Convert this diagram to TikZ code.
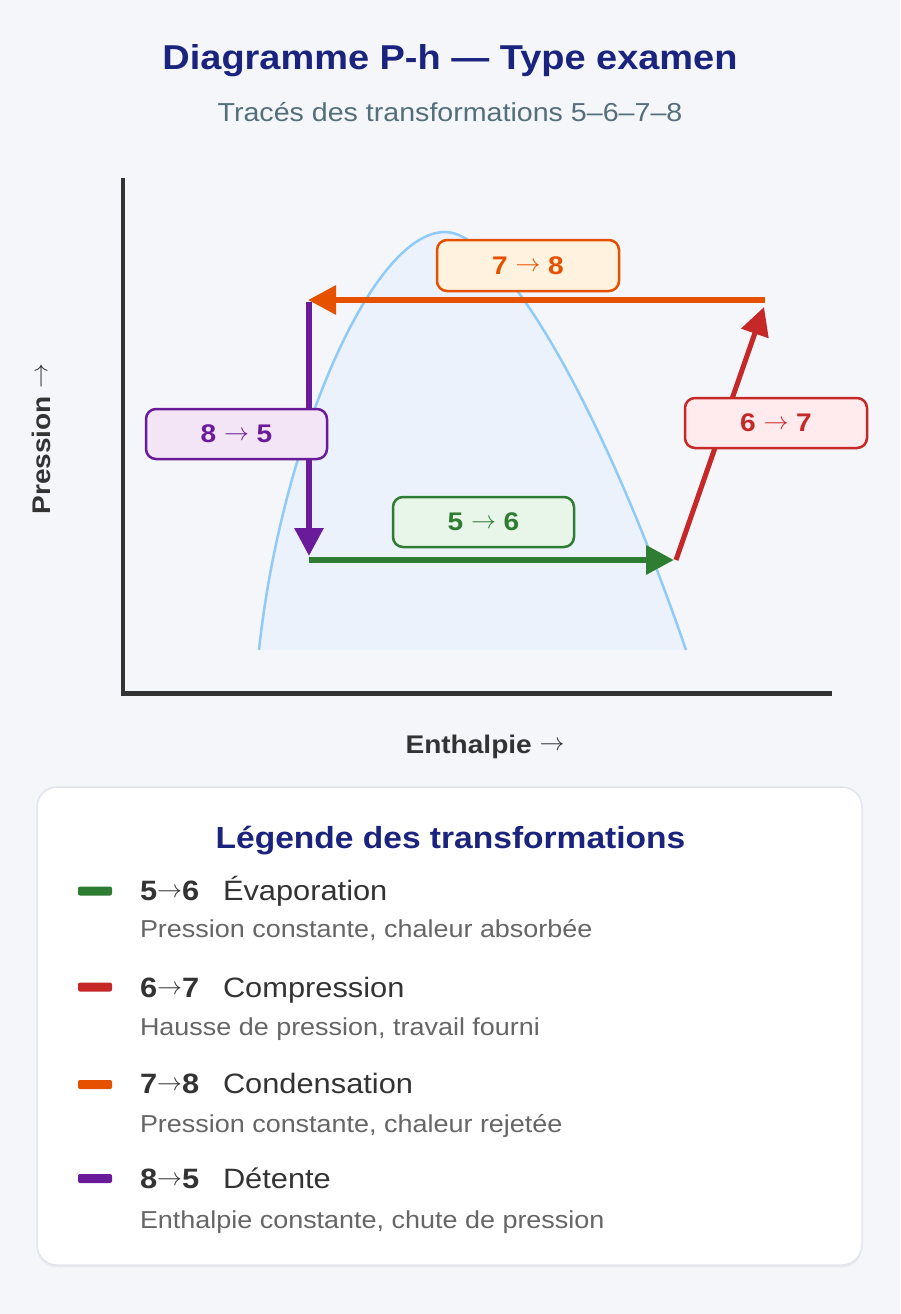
\documentclass[tikz,border=0pt]{standalone}
\usepackage{fontspec}
\setmainfont{Liberation Sans}[FakeStretch=1.1]
\usetikzlibrary{arrows.meta}
\definecolor{bg}{HTML}{F4F6FA}
\definecolor{navy}{HTML}{1A237E}
\definecolor{subgray}{HTML}{546E7A}
\definecolor{axisc}{HTML}{333333}
\definecolor{domeline}{HTML}{90CAF9}
\definecolor{domefill}{HTML}{EBF2FC}
\definecolor{cgreen}{HTML}{2E7D32}
\definecolor{cred}{HTML}{C62828}
\definecolor{corange}{HTML}{E65100}
\definecolor{cpurple}{HTML}{6A1B9A}
\definecolor{fgreen}{HTML}{E8F5E9}
\definecolor{fred}{HTML}{FFEBEE}
\definecolor{forange}{HTML}{FFF3E0}
\definecolor{fpurple}{HTML}{F3E5F5}
\definecolor{darktext}{HTML}{333333}
\definecolor{desctext}{HTML}{666666}
\definecolor{legborder}{HTML}{E2E5EC}
\definecolor{legshadow}{HTML}{E9EBF0}
\newcommand{\myfs}[1]{\fontsize{#1}{#1}\selectfont}
\newcommand{\myarr}{\raisebox{0.1em}{$\rightarrow$}}
\begin{document}
\begin{tikzpicture}[x=1pt,y=-1pt,
  txt/.style={inner sep=0pt, outer sep=0pt},
  lbl/.style={draw, line width=2.5pt, rounded corners=10pt, minimum width=181pt, minimum height=50pt, inner sep=0pt, font=\myfs{25.5}\bfseries},
  flow/.style={line width=6pt},
  flowtip/.style={-{Triangle[length=28pt,width=28pt]}},
  swatch/.style={rounded corners=2pt},
  head/.style={txt, anchor=base west, text=darktext, font=\myfs{28}},
  desc/.style={txt, anchor=base west, text=desctext, font=\myfs{24.5}},
]
\useasboundingbox (0,0) rectangle (900,1314);
\fill[bg] (0,0) rectangle (900,1314);

% titles
\node[txt, anchor=base, text=navy, font=\myfs{34.5}\bfseries] (title) at (450,70) {Diagramme P-h — Type examen};
\node[txt, anchor=base, text=subgray, font=\myfs{26}] (subtitle) at (450,121) {Tracés des transformations 5–6–7–8};

% dome
\fill[domefill] (259,650) .. controls (280,450) and (370,232) .. (445,232) .. controls (500,232) and (600,400) .. (686,650) -- cycle;
\draw[domeline, line width=2.5pt] (259,650) .. controls (280,450) and (370,232) .. (445,232) .. controls (500,232) and (600,400) .. (686,650);

% axes
\coordinate (ytop) at (123,178);
\coordinate (origin) at (123,693.5);
\coordinate (xend) at (832,693.5);
\draw[axisc, line width=4.5pt, line join=miter] (ytop) -- (origin) -- (xend);
\node[txt, anchor=base, text=darktext, font=\myfs{25.5}\bfseries] (xlabel) at (485,753) {Enthalpie \myarr};
\node[txt, anchor=base, rotate=90, text=darktext, font=\myfs{25.5}\bfseries] (ylabel) at (50,439) {Pression \myarr};

% cycle points
\coordinate (p5) at (309,560);
\coordinate (p6) at (676,560);
\coordinate (p6tip) at (674,560);
\coordinate (p7) at (765,300);
\coordinate (p7tip) at (764,307);
\coordinate (p8) at (309,300);
\coordinate (p8tip) at (308,300);
\coordinate (p5tip) at (309,556);

% transformations
\draw[corange, flow, flowtip] (p7) -- (p8tip);
\draw[cpurple, flow, flowtip] ([yshift=-2pt]p8) -- (p5tip);
\draw[cgreen, line width=6.5pt, flowtip] (p5) -- (p6tip);
\draw[cred, line width=5pt, flowtip] (p6) -- (p7tip);

% labels
\node[lbl, draw=corange, fill=forange, text=corange, minimum width=182pt, minimum height=51pt] (l78) at (528,265.5) {\bfseries 7 \myarr{} 8};
\node[lbl, draw=cred, fill=fred, text=cred, minimum width=182pt] (l67) at (776,423) {\bfseries 6 \myarr{} 7};
\node[lbl, draw=cpurple, fill=fpurple, text=cpurple] (l85) at (236.5,434) {\bfseries 8 \myarr{} 5};
\node[lbl, draw=cgreen, fill=fgreen, text=cgreen] (l56) at (483.5,522) {\bfseries 5 \myarr{} 6};

% legend box
\fill[legshadow, rounded corners=20pt] (37,789.5) rectangle (862,1267.5);
\node[draw=legborder, fill=white, line width=1.5pt, rounded corners=20pt, minimum width=825pt, minimum height=478pt, inner sep=0pt] (legend) at (449.5,1026) {};
\node[txt, anchor=base, text=navy, font=\myfs{30.5}\bfseries] (legtitle) at (450.5,848) {Légende des transformations};

% row 1
\fill[cgreen, swatch] (78,886.5) rectangle (112,895.5);
\node[head, font=\myfs{28}\bfseries] (n56) at (140,900) {5\myarr{}6};
\node[head] (t56) at (223,900) {Évaporation};
\node[desc] (d56) at (140,937) {Pression constante, chaleur absorbée};
% row 2
\fill[cred, swatch] (78,982.5) rectangle (112,991.5);
\node[head, font=\myfs{28}\bfseries] (n67) at (140,997) {6\myarr{}7};
\node[head] (t67) at (223,997) {Compression};
\node[desc] (d67) at (140,1035) {Hausse de pression, travail fourni};
% row 3
\fill[corange, swatch] (78,1080) rectangle (112,1089);
\node[head, font=\myfs{28}\bfseries] (n78) at (140,1093) {7\myarr{}8};
\node[head] (t78) at (223,1093) {Condensation};
\node[desc] (d78) at (140,1132) {Pression constante, chaleur rejetée};
% row 4
\fill[cpurple, swatch] (78,1174) rectangle (112,1183);
\node[head, font=\myfs{28}\bfseries] (n85) at (140,1188) {8\myarr{}5};
\node[head] (t85) at (223,1188) {Détente};
\node[desc] (d85) at (140,1228) {Enthalpie constante, chute de pression};
\end{tikzpicture}
\end{document}
